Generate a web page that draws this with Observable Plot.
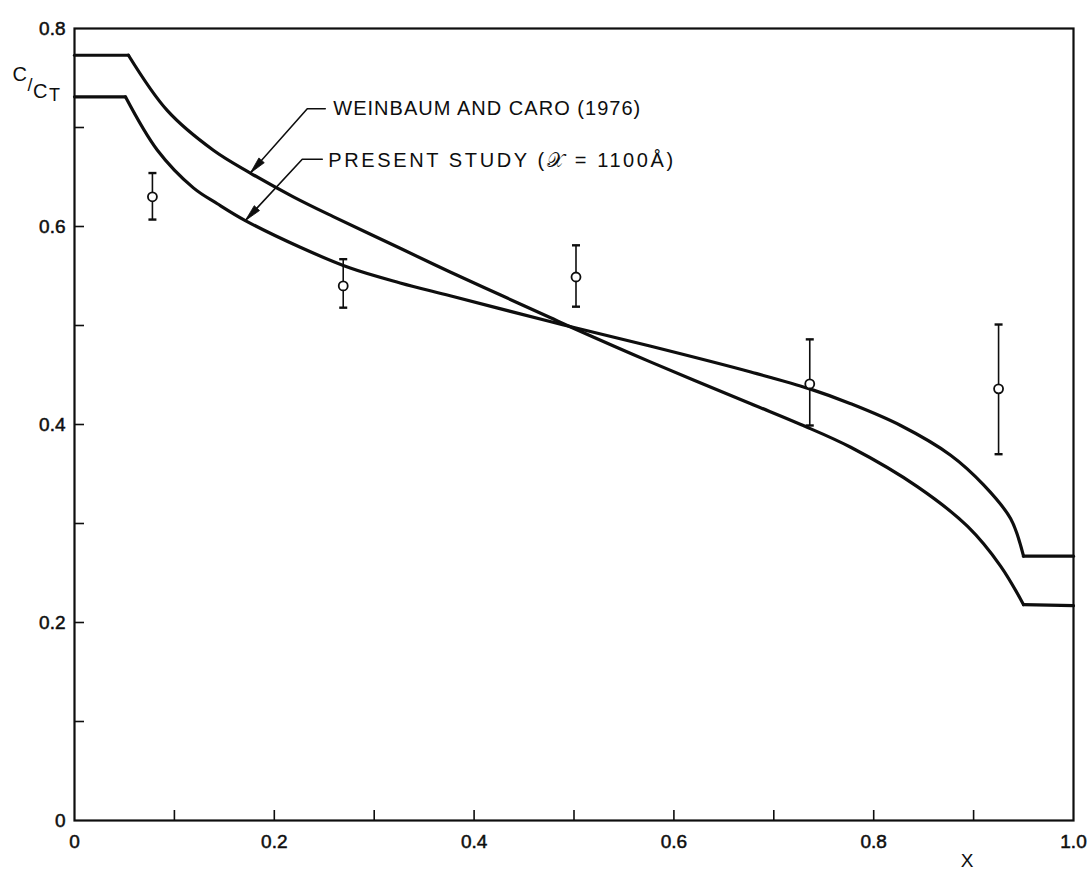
<!DOCTYPE html>
<html>
<head>
<meta charset="utf-8">
<script src="https://cdn.jsdelivr.net/npm/d3@7"></script>
<script src="https://cdn.jsdelivr.net/npm/@observablehq/plot@0.6"></script>
<style>
  html, body { margin: 0; padding: 0; background: #fff; }
  #chart svg { display: block; }
</style>
</head>
<body>
<div id="chart"></div>
<script>
// Concentration profile C/C_T across the wall, X = 0 … 1

// Weinbaum and Caro (1976) model curve
const weinbaumX = [0, 0.054, 0.093, 0.139, 0.176, 0.219, 0.259, 0.326, 0.376, 0.426, 0.476, 0.500,
                   0.577, 0.677, 0.727, 0.777, 0.844, 0.894, 0.927, 0.950, 1.0];
const weinbaumY = [0.773, 0.773, 0.717, 0.677, 0.654, 0.630, 0.610, 0.578, 0.554, 0.531, 0.508, 0.497,
                   0.463, 0.421, 0.400, 0.377, 0.337, 0.297, 0.257, 0.218, 0.217];

// Present study curve
const presentX = [0, 0.051, 0.083, 0.119, 0.143, 0.171, 0.226, 0.276, 0.326, 0.376, 0.476, 0.500,
                  0.577, 0.677, 0.736, 0.777, 0.827, 0.877, 0.910, 0.937, 0.950, 1.0];
const presentY = [0.731, 0.731, 0.677, 0.639, 0.623, 0.606, 0.579, 0.558, 0.543, 0.530, 0.504, 0.498,
                  0.479, 0.453, 0.436, 0.421, 0.399, 0.369, 0.339, 0.305, 0.267, 0.267];

// Measured points with error bars
const obsX  = [0.078, 0.269, 0.502, 0.736, 0.925];
const obsY  = [0.630, 0.540, 0.549, 0.441, 0.436];
const obsLo = [0.607, 0.518, 0.519, 0.399, 0.370];
const obsHi = [0.654, 0.567, 0.581, 0.486, 0.501];

// Axis ticks
const xLabelTicks = [0, 0.2, 0.4, 0.6, 0.8, 1.0];
const yLabelTicks = [0, 0.2, 0.4, 0.6, 0.8];
const xMinorTicks = [0.1, 0.2, 0.3, 0.4, 0.5, 0.6, 0.7, 0.8, 0.9];
const yMinorTicks = [0.1, 0.2, 0.3, 0.4, 0.5, 0.6, 0.7];

// Curve labels and their leader lines
const noteText = ["WEINBAUM AND CARO (1976)", "PRESENT STUDY (𝒳 = 1100Å)"];
const noteX = [0.259, 0.254];
const noteY = [0.719, 0.667];
const noteWidth = [307, 345];
const leaderSeries = ["weinbaum", "weinbaum", "weinbaum", "present", "present", "present"];
const leaderX = [0.251, 0.233, 0.176, 0.248, 0.228, 0.171];
const leaderY = [0.719, 0.719, 0.654, 0.668, 0.668, 0.606];

// ---- layout ----
const W = 1088, H = 870;
const mL = 74, mR = 15, mT = 28, mB = 50;
const xDomain = [0, 1], yDomain = [0, 0.8];
const ink = "#0e0e0e";
const font = "Liberation Sans, Arial, sans-serif";
const tickFont = 19;

const weinbaum = weinbaumX.map((x, i) => ({x, y: weinbaumY[i]}));
const present = presentX.map((x, i) => ({x, y: presentY[i]}));
const obs = obsX.map((x, i) => ({x, y: obsY[i], lo: obsLo[i], hi: obsHi[i]}));
const leaders = leaderX.map((x, i) => ({x, y: leaderY[i], s: leaderSeries[i]}));
const notes = noteText.map((t, i) => ({t, x: noteX[i], y: noteY[i], w: noteWidth[i]}));

// pixels per data unit, used to orient the arrowheads along their leaders
const kx = (W - mL - mR) / (xDomain[1] - xDomain[0]);
const ky = (H - mT - mB) / (yDomain[1] - yDomain[0]);

// short horizontal cap for the error bars
const capSymbol = {draw(ctx) { ctx.moveTo(-4, 0); ctx.lineTo(4, 0); }};

// slim filled arrowhead whose tip sits at the anchor point
function arrowHead(series) {
  const pts = leaders.filter(d => d.s === series);
  const a = pts[pts.length - 2], b = pts[pts.length - 1];
  let ux = (b.x - a.x) * kx, uy = -(b.y - a.y) * ky;
  const n = Math.hypot(ux, uy); ux /= n; uy /= n;
  const L = 17, w = 3.6;
  return {
    tip: b,
    symbol: {draw(ctx) {
      const bx = -ux * L, by = -uy * L;
      ctx.moveTo(0, 0);
      ctx.lineTo(bx - uy * w, by + ux * w);
      ctx.lineTo(bx + uy * w, by - ux * w);
      ctx.closePath();
    }}
  };
}
const headW = arrowHead("weinbaum");
const headP = arrowHead("present");

// each profile: a flat plateau at both ends, a smooth curve in between
function profileMarks(data) {
  const opts = {x: "x", y: "y", stroke: ink, strokeWidth: 3.2, strokeLinejoin: "round", strokeLinecap: "round"};
  return [
    Plot.line(data.slice(0, 2), opts),
    Plot.line(data.slice(1, -1), {...opts, curve: "catmull-rom"}),
    Plot.line(data.slice(-2), opts)
  ];
}

const fmt = d => d === 0 ? "0" : d.toFixed(1);

const chart = Plot.plot({
  width: W, height: H,
  marginLeft: mL, marginRight: mR, marginTop: mT, marginBottom: mB,
  style: {fontFamily: font, fontSize: tickFont + "px", background: "#fff", color: ink},
  x: {domain: xDomain},
  y: {domain: yDomain},
  marks: [
    // inward minor ticks
    Plot.axisX(xMinorTicks, {tickSize: -10, strokeWidth: 1.6, tickFormat: () => "", label: null}),
    Plot.axisY(yMinorTicks, {tickSize: -10, strokeWidth: 1.6, tickFormat: () => "", label: null}),
    // tick labels
    Plot.axisX(xLabelTicks, {tickSize: 0, tickPadding: 14, fontSize: tickFont, tickFormat: fmt, label: null}),
    Plot.axisY(yLabelTicks, {tickSize: 0, tickPadding: 9, fontSize: tickFont, tickFormat: fmt, label: null}),
    Plot.frame({stroke: ink, strokeWidth: 2.2}),

    // model curves
    ...profileMarks(weinbaum),
    ...profileMarks(present),

    // measurements
    Plot.ruleX(obs, {x: "x", y1: "lo", y2: "hi", stroke: ink, strokeWidth: 1.6}),
    Plot.dot(obs, {x: "x", y: "hi", symbol: capSymbol, stroke: ink, strokeWidth: 2.4}),
    Plot.dot(obs, {x: "x", y: "lo", symbol: capSymbol, stroke: ink, strokeWidth: 2.4}),
    Plot.dot(obs, {x: "x", y: "y", r: 4.5, fill: "#fff", stroke: ink, strokeWidth: 1.8}),

    // leaders and labels
    Plot.line(leaders, {x: "x", y: "y", z: "s", stroke: ink, strokeWidth: 1.6}),
    Plot.dot([headW.tip], {x: "x", y: "y", symbol: headW.symbol, fill: ink, stroke: ink, strokeWidth: 0.8}),
    Plot.dot([headP.tip], {x: "x", y: "y", symbol: headP.symbol, fill: ink, stroke: ink, strokeWidth: 0.8}),
    Plot.text(notes, {x: "x", y: "y", text: "t", textAnchor: "start", lineAnchor: "middle",
                      fontSize: 20, fill: ink}),

    // y-axis title  C/C_T (split into raised / lowered parts below)
    Plot.text(["C/CT"], {frameAnchor: "top-left", textAnchor: "start", dx: -62, dy: 55, fontSize: 20, fill: ink}),

    // x-axis title
    Plot.text(["X"], {frameAnchor: "bottom-right", dx: -100, dy: 46, fontSize: 19, fill: ink})
  ]
});

const svg = d3.select(chart);

// slightly heavier lettering for the tick labels, like pen-drawn numerals
svg.selectAll('g[aria-label="x-axis tick label"] text, g[aria-label="y-axis tick label"] text')
  .attr("stroke", ink).attr("stroke-width", 0.5);

// stretch each curve label to its lettered width
svg.selectAll("text").each(function() {
  const el = d3.select(this);
  const note = notes.find(n => n.t === el.text());
  if (note) el.attr("textLength", note.w).attr("lengthAdjust", "spacing");
});

// C/C_T : first C raised, slash, C with subscript T
svg.selectAll("text").filter(function() { return d3.select(this).text() === "C/CT"; })
  .each(function() {
    const el = d3.select(this).attr("dy", null).text(null);
    el.append("tspan").attr("dy", -17).text("C");
    el.append("tspan").attr("dy", 10).attr("dx", 0.5).attr("font-size", 18).text("/");
    el.append("tspan").attr("dy", 7).attr("dx", 0.5).text("C");
    el.append("tspan").attr("dy", 3).attr("dx", 1.5).attr("font-size", 18).text("T");
  });

document.getElementById("chart").appendChild(chart);
</script>
</body>
</html>
